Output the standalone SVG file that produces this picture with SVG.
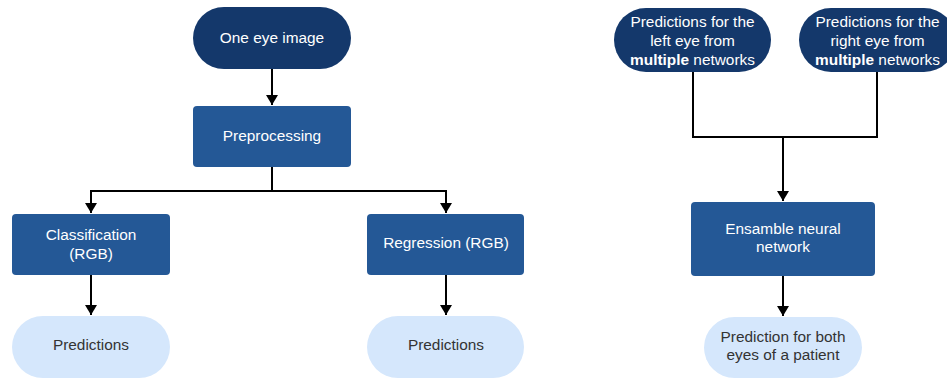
<svg xmlns="http://www.w3.org/2000/svg" width="947" height="378" viewBox="0 0 947 378">
  <style>
    .dark { fill: #14386b; }
    .mid { fill: #245896; }
    .light { fill: #d5e7fc; }
    text { font-family: "Liberation Sans", Arial, sans-serif; font-size: 15.4px; text-anchor: middle; }
    .w { fill: #ffffff; }
    .g { fill: #333333; }
    .b { font-weight: bold; }
    .wire { fill: none; stroke: #000000; stroke-width: 2; }
  </style>
  <defs>
    <marker id="arrow" viewBox="0 0 10 12" refX="10" refY="6" markerWidth="10" markerHeight="12" markerUnits="userSpaceOnUse" orient="auto">
      <path d="M0,0 L10,6 L0,12 Z" fill="#000000"/>
    </marker>
  </defs>
  <rect width="947" height="378" fill="#ffffff"/>

  <g id="connectors">
    <path class="wire" d="M272,69 V105" marker-end="url(#arrow)"/>
    <path class="wire" d="M272,167 V191 H91 V213" marker-end="url(#arrow)"/>
    <path class="wire" d="M272,191 H446 V213" marker-end="url(#arrow)"/>
    <path class="wire" d="M91,275 V315" marker-end="url(#arrow)"/>
    <path class="wire" d="M446,275 V315" marker-end="url(#arrow)"/>
    <path class="wire" d="M693,72 V137 H877 V72"/>
    <path class="wire" d="M783,137 V201" marker-end="url(#arrow)"/>
    <path class="wire" d="M783,276 V316" marker-end="url(#arrow)"/>
  </g>

  <g id="one-eye-image">
    <rect class="dark" x="193" y="7" width="158" height="62" rx="31"/>
    <text class="w" x="272" y="43">One eye image</text>
  </g>
  <g id="preprocessing">
    <rect class="mid" x="193" y="106" width="158" height="61" rx="4"/>
    <text class="w" x="272" y="141">Preprocessing</text>
  </g>
  <g id="classification">
    <rect class="mid" x="12" y="214" width="158" height="61" rx="4"/>
    <text class="w" x="91" y="240">Classification</text>
    <text class="w" x="91" y="259">(RGB)</text>
  </g>
  <g id="regression">
    <rect class="mid" x="367" y="214" width="157" height="61" rx="4"/>
    <text class="w" x="446" y="248">Regression (RGB)</text>
  </g>
  <g id="predictions-classification">
    <rect class="light" x="12" y="316" width="158" height="62" rx="31"/>
    <text class="g" x="91" y="350">Predictions</text>
  </g>
  <g id="predictions-regression">
    <rect class="light" x="367" y="316" width="157" height="62" rx="31"/>
    <text class="g" x="446" y="350">Predictions</text>
  </g>

  <g id="left-eye-predictions">
    <rect class="dark" x="614" y="8" width="157" height="64" rx="32"/>
    <text class="w" x="692.5" y="27">Predictions for the</text>
    <text class="w" x="692.5" y="46">left eye from</text>
    <text class="w" x="692.5" y="65"><tspan class="b">multiple</tspan> networks</text>
  </g>
  <g id="right-eye-predictions">
    <rect class="dark" x="799" y="8" width="157" height="64" rx="32"/>
    <text class="w" x="877.5" y="27">Predictions for the</text>
    <text class="w" x="877.5" y="46">right eye from</text>
    <text class="w" x="877.5" y="65"><tspan class="b">multiple</tspan> networks</text>
  </g>
  <g id="ensemble-network">
    <rect class="mid" x="691" y="202" width="184" height="74" rx="4"/>
    <text class="w" x="783" y="234">Ensamble neural</text>
    <text class="w" x="783" y="252">network</text>
  </g>
  <g id="prediction-both-eyes">
    <rect class="light" x="704" y="317" width="158" height="61" rx="30.5"/>
    <text class="g" x="783" y="342">Prediction for both</text>
    <text class="g" x="783" y="360">eyes of a patient</text>
  </g>
</svg>
